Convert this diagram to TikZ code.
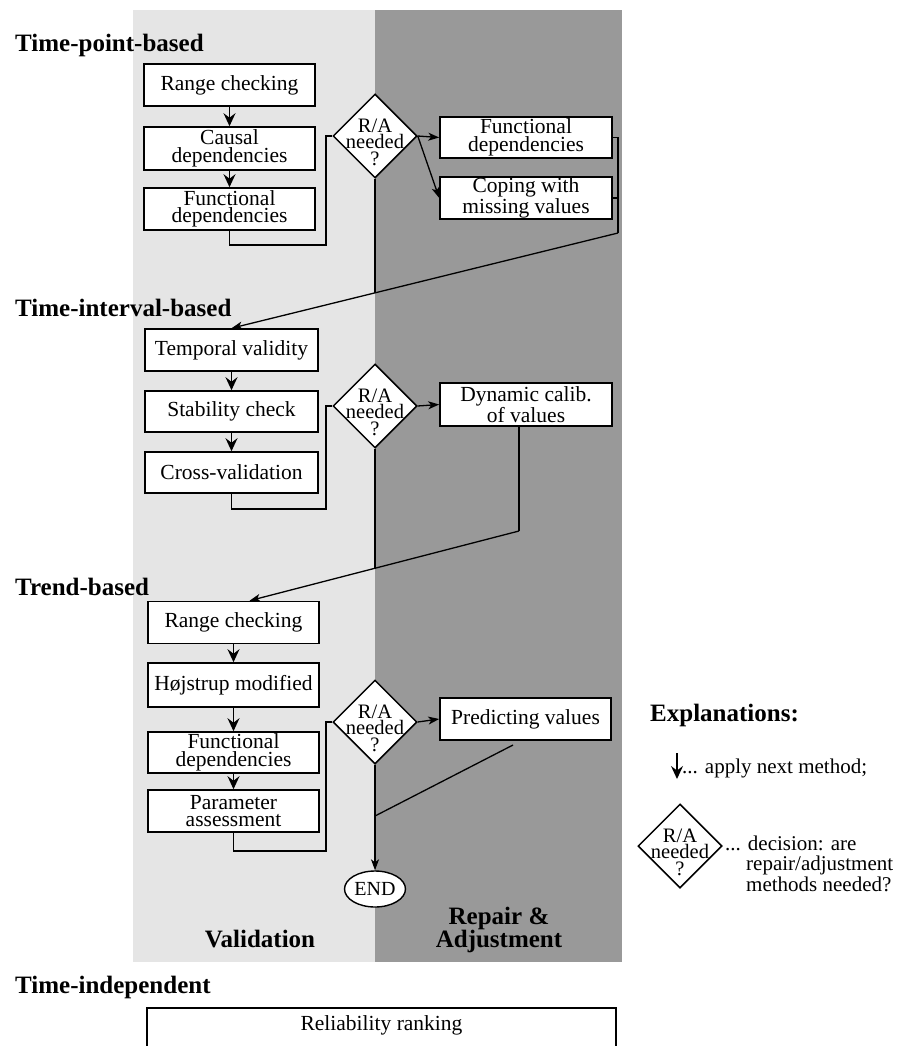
\documentclass[tikz,border=0pt]{standalone}
\usepackage{fontspec}
\setmainfont{Liberation Serif}
\usetikzlibrary{shapes.geometric,arrows.meta}

\begin{document}
\begin{tikzpicture}[x=1pt, y=-1pt,
  box/.style={draw, line width=1.6pt, fill=white, minimum width=171pt, minimum height=42pt,
    inner sep=1pt, align=center, font=\fontsize{21.5}{17.5}\selectfont},
  decision/.style={draw, diamond, line width=1.5pt, fill=white, minimum width=84pt,
    minimum height=84pt, inner sep=0pt},
  dectext/.style={align=center, inner sep=0pt, font=\fontsize{20.5}{16.5}\selectfont},
  heading/.style={anchor=base west, inner sep=0pt, font=\fontsize{25}{25}\selectfont\bfseries},
  lanelabel/.style={inner sep=0pt, align=center, font=\fontsize{25}{23}\selectfont\bfseries},
  expl/.style={inner sep=0pt, align=left, font=\fontsize{21}{20.5}\selectfont},
  next/.style={-{Stealth[length=13pt, width=12pt, inset=4.5pt]}, line width=1.5pt},
  repair/.style={-{Stealth[length=11pt, width=8pt, inset=3pt]}, line width=1.3pt},
  jump/.style={-{Stealth[length=11pt, width=8pt, inset=3pt]}, line width=1.3pt},
  conn/.style={line width=1.3pt}]

\useasboundingbox (0,0) rectangle (905,1046);
\fill[white] (0,0) rectangle (905,1046);

% lanes
\fill[gray!20] (133,10) rectangle (375,962);
\fill[black!40] (375,10) rectangle (622,962);
\node[lanelabel, anchor=base] (lane_val) at (260,947) {Validation};
\node[lanelabel] (lane_rep) at (499,930) {Repair \&\\Adjustment};

% time-point-based
\node[heading] (h_point) at (15,52) {Time-point-based};
\node[box] (tp_range) at (229.5,85) {Range checking};
\node[box, minimum height=43pt] (tp_causal) at (229.5,148.5) {Causal\\dependencies};
\node[box] (tp_func) at (229.5,209) {Functional\\dependencies};
\node[decision] (tp_dec) at (375,136) {};
\node[dectext] (tp_dec_txt) at (375,142) {R/A\\needed\\?};
\node[box, minimum width=172pt, minimum height=41pt] (tp_fd) at (526,137.5) {Functional\\dependencies};
\node[box, minimum width=172pt] (tp_miss) at (526,198) {Coping with\\missing values};
\coordinate (tp_join) at (618,233);
\coordinate (tp_merge) at (375,293.4);

% time-interval-based
\node[heading] (h_interval) at (15,316) {Time-interval-based};
\node[box, minimum width=173pt] (ti_temp) at (231.5,350) {Temporal validity};
\node[box, minimum width=173pt, minimum height=41pt] (ti_stab) at (231.5,411.5) {Stability check};
\node[box, minimum width=173pt, minimum height=41pt] (ti_cross) at (231.5,472.5) {Cross-validation};
\node[decision] (ti_dec) at (375,406) {};
\node[dectext] (ti_dec_txt) at (375,412) {R/A\\needed\\?};
\node[box, minimum width=172pt, minimum height=43pt] (ti_calib) at (526,404.5) {Dynamic calib.\\of values};
\coordinate (ti_join) at (519,531);
\coordinate (ti_merge) at (375,568.9);

% trend-based
\node[heading] (h_trend) at (15,595) {Trend-based};
\node[box] (tr_range) at (233.5,622.5) {Range checking};
\node[box, minimum height=44pt] (tr_hoj) at (233.5,685) {Højstrup modified};
\node[box, minimum height=41pt] (tr_func) at (233.5,752.5) {Functional\\dependencies};
\node[box] (tr_param) at (233.5,811) {Parameter\\assessment};
\node[decision] (tr_dec) at (375,722) {};
\node[dectext] (tr_dec_txt) at (375,728) {R/A\\needed\\?};
\node[box] (tr_pred) at (525.5,719) {Predicting values};
\coordinate (tr_out) at (513,745);
\coordinate (tr_merge) at (375,816);
\node[draw, ellipse, line width=1.4pt, fill=white, minimum width=52pt, minimum height=36pt,
  inner sep=1pt, font=\fontsize{20}{20}\selectfont] (tr_end) at (375,889) {END};

\draw[next] (tp_range) -- (tp_causal);
\draw[next] (tp_causal) -- (tp_func);
\draw[conn] (tp_func.south) |- (326,245) |- (tp_dec.west);
\draw[repair] (tp_dec.east) -- (tp_fd.west);
\draw[repair] (tp_dec.east) -- (tp_miss.west);
\draw[conn] (tp_fd.east) -| (tp_join);
\draw[conn] (tp_miss.east) -- (tp_miss.east -| tp_join);
\draw[conn] (tp_dec.south) -- (tp_merge);
\draw[jump] (tp_join) -- (ti_temp.north);

\draw[next] (ti_temp) -- (ti_stab);
\draw[next] (ti_stab) -- (ti_cross);
\draw[conn] (ti_cross.south) |- (326,509) |- (ti_dec.west);
\draw[repair] (ti_dec.east) -- (ti_calib.west);
\draw[conn] (ti_join |- ti_calib.south) -- (ti_join);
\draw[conn] (ti_dec.south) -- (ti_merge);
\draw[jump] (ti_join) -- ([xshift=16pt]tr_range.north);

\draw[next] (tr_range) -- (tr_hoj);
\draw[next] (tr_hoj) -- (tr_func);
\draw[next] (tr_func) -- (tr_param);
\draw[conn] (tr_param.south) |- (326,851) |- (tr_dec.west);
\draw[repair] (tr_dec.east) -- (tr_pred.west);
\draw[conn] (tr_out) -- (tr_merge);
\draw[repair] (tr_dec.south) -- (tr_end.north);

% explanations
\node[heading] (h_expl) at (650,721) {Explanations:};
\coordinate (ex_top) at (677,753);
\coordinate (ex_tip) at (677,779);
\draw[next] (ex_top) -- (ex_tip);
\node[expl, anchor=base west] (ex_next) at (682,773) {... apply next method;};
\node[decision] (ex_dec) at (680,846) {};
\node[dectext] (ex_dec_txt) at (680,852) {R/A\\needed\\?};
\node[expl, anchor=north west] (ex_text) at (725,835.5)
  {... decision: are\\\phantom{...\ }repair/adjustment\\\phantom{...\ }methods needed?};

% time-independent
\node[heading] (h_indep) at (15,993) {Time-independent};
\node[draw, line width=1.6pt, minimum width=469pt, minimum height=80pt, anchor=north] (ind_box) at (381.5,1007) {};
\node[anchor=base, inner sep=0pt, font=\fontsize{21.5}{21}\selectfont] (ind_rel) at (381.5,1030) {Reliability ranking};

\end{tikzpicture}
\end{document}
